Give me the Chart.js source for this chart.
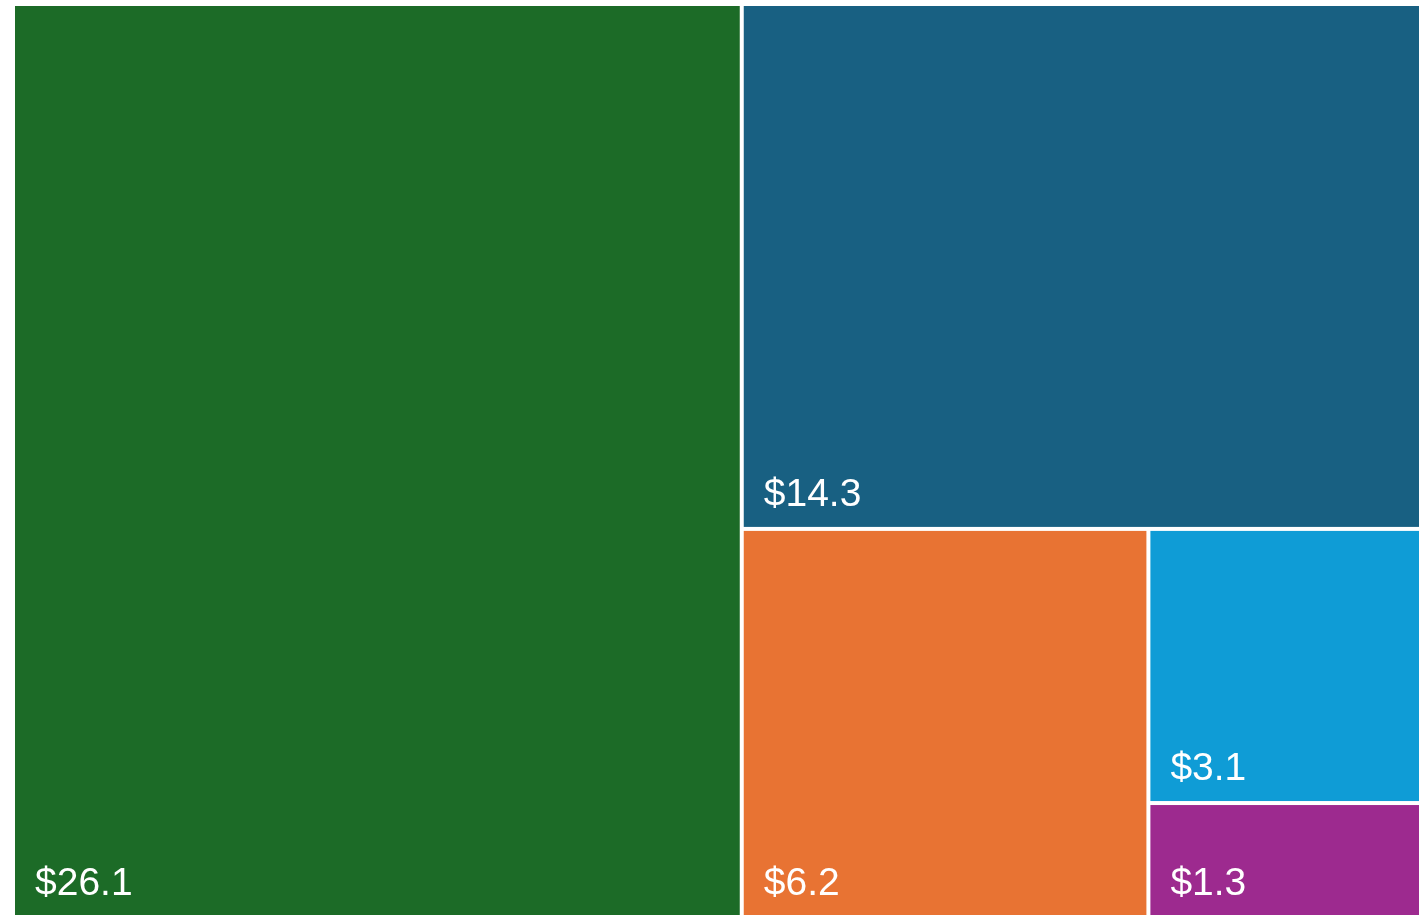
<!DOCTYPE html>
<html>
<head>
<meta charset="utf-8">
<script src="https://cdn.jsdelivr.net/npm/chart.js@4.4.1/dist/chart.umd.min.js"></script>
<style>
  html, body { margin: 0; padding: 0; background: #ffffff; overflow: hidden; }
  #wrap { position: absolute; left: 0; top: 0; width: 1440px; height: 922px; }
</style>
</head>
<body>
<div id="wrap"><canvas id="treeChart"></canvas></div>
<script>
// chart data
const categories = ['A', 'B', 'C', 'D', 'E'];
const values = [26.1, 14.3, 6.2, 3.1, 1.3];
const valueLabels = ['$26.1', '$14.3', '$6.2', '$3.1', '$1.3'];
const colors = ['#1c6b27', '#186082', '#e87333', '#0f9cd6', '#9d2a8f'];

// squarified treemap layout, in units of the chart area
function worst(row, side) {
    const s = row.reduce((a, b) => a + b, 0);
    const mx = Math.max(...row), mn = Math.min(...row);
    return Math.max(side * side * mx / (s * s), (s * s) / (side * side * mn));
}

function squarify(vals, rect) {
    const out = [];
    const total = vals.reduce((a, b) => a + b, 0);
    const scale = rect.w * rect.h / total;
    let areas = vals.map(v => v * scale);
    let r = Object.assign({}, rect);
    let idx = 0;
    while (idx < areas.length) {
        const side = Math.min(r.w, r.h);
        let row = [areas[idx]];
        let j = idx + 1;
        while (j < areas.length && worst(row.concat(areas[j]), side) <= worst(row, side)) {
            row.push(areas[j]);
            j++;
        }
        const s = row.reduce((a, b) => a + b, 0);
        if (r.w >= r.h) {
            // column on the left
            const cw = s / r.h;
            let y = r.y;
            row.forEach(a => { out.push({ x: r.x, y: y, w: cw, h: a / cw }); y += a / cw; });
            r = { x: r.x + cw, y: r.y, w: r.w - cw, h: r.h };
        } else {
            // row on the top
            const rh = s / r.w;
            let x = r.x;
            row.forEach(a => { out.push({ x: x, y: r.y, w: a / rh, h: rh }); x += a / rh; });
            r = { x: r.x, y: r.y + rh, w: r.w, h: r.h - rh };
        }
        idx = j;
    }
    return out;
}

const treemapPlugin = {
    id: 'treemap',
    beforeDatasetsDraw(chart) {
        const ctx = chart.ctx;
        const xs = chart.scales.x, ys = chart.scales.y;
        const area = chart.chartArea;
        const aspect = (area.right - area.left) / (area.bottom - area.top);
        const boxes = squarify(values, { x: 0, y: 0, w: aspect, h: 1 });
        const gap = 2;
        ctx.save();
        boxes.forEach((b, i) => {
            const x0 = xs.getPixelForValue(b.x / aspect) + gap;
            const x1 = xs.getPixelForValue((b.x + b.w) / aspect) - gap;
            const y0 = ys.getPixelForValue(b.y) + gap;
            const y1 = ys.getPixelForValue(b.y + b.h) - gap;
            ctx.fillStyle = colors[i];
            ctx.fillRect(x0, y0, x1 - x0, y1 - y0);
            ctx.fillStyle = '#ffffff';
            ctx.font = '39px "Liberation Sans", Arial, sans-serif';
            ctx.textAlign = 'left';
            ctx.textBaseline = 'alphabetic';
            ctx.fillText(valueLabels[i], x0 + 20, y1 - 21);
        });
        ctx.restore();
    }
};

document.addEventListener("DOMContentLoaded", function () {
    const ctx = document.getElementById('treeChart').getContext('2d');
    new Chart(ctx, {
        type: 'scatter',
        data: {
            labels: categories,
            datasets: [{
                label: 'Value',
                data: [],
                pointRadius: 0
            }]
        },
        options: {
            responsive: true,
            maintainAspectRatio: false,
            animation: false,
            layout: { padding: { left: 13, top: 4, right: 3, bottom: 4 } },
            plugins: {
                legend: { display: false },
                tooltip: { enabled: false }
            },
            scales: {
                x: { type: 'linear', min: 0, max: 1, display: false },
                y: { type: 'linear', min: 0, max: 1, reverse: true, display: false }
            }
        },
        plugins: [treemapPlugin]
    });
});
</script>
</body>
</html>
